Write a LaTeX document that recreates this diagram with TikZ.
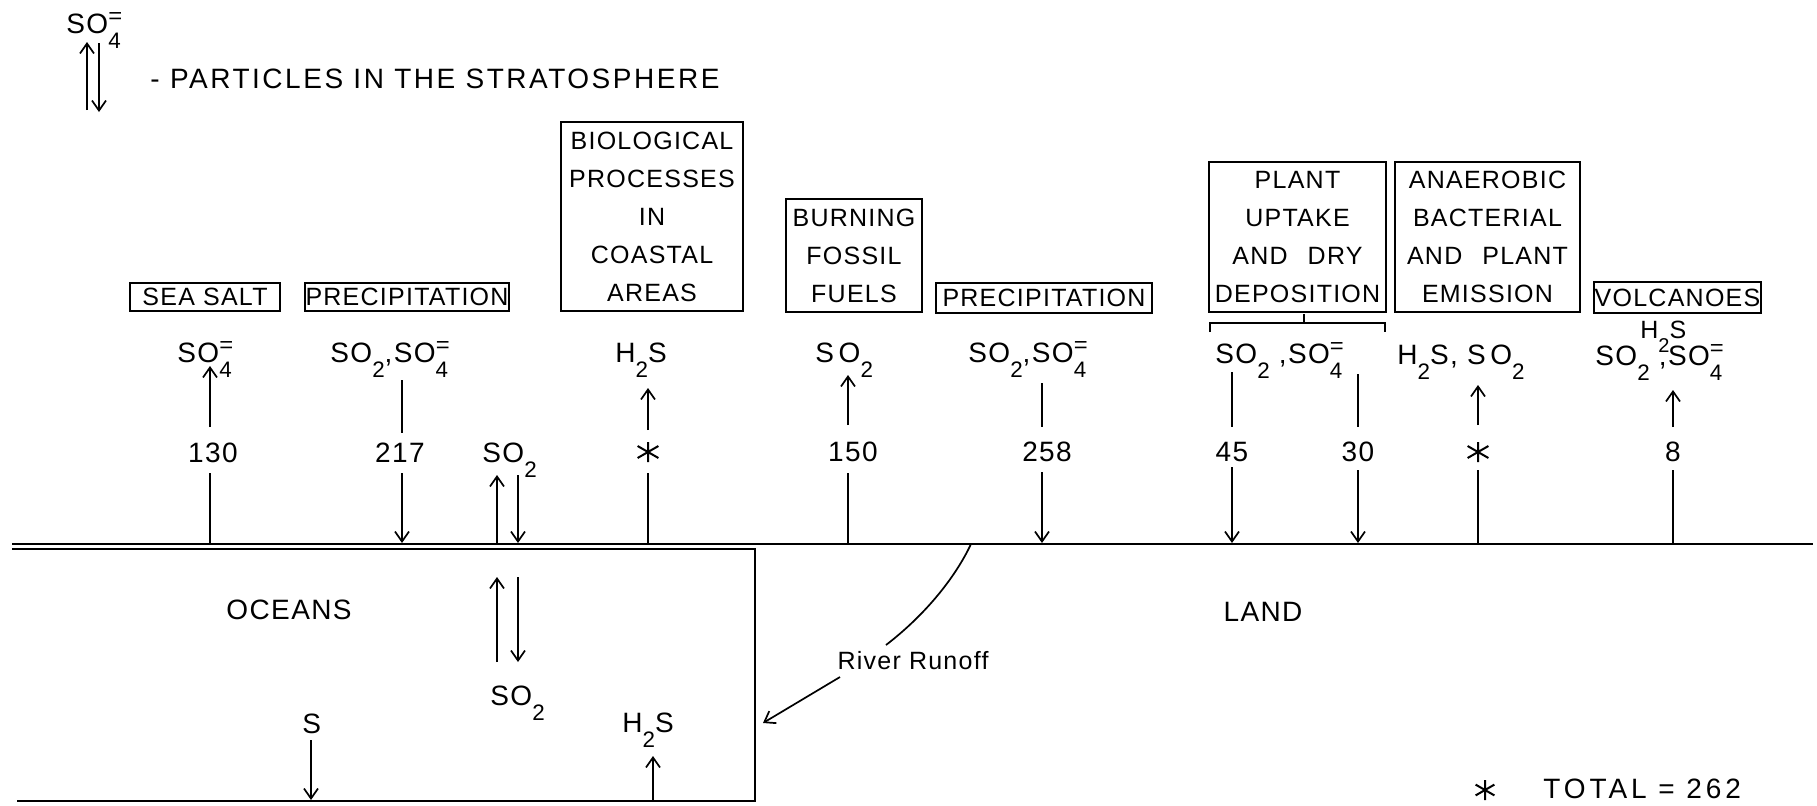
\documentclass[tikz,border=0pt]{standalone}
\usepackage{fontspec}
\setmainfont{Liberation Sans}[LetterSpace=5]
\usetikzlibrary{arrows.meta}
\newcommand{\dn}[1]{\raisebox{-0.56em}{\scalebox{0.8}{#1}}}
\newcommand{\sfour}{\rlap{\raisebox{0.34em}{\scalebox{0.85}[0.8]{=}}}\dn{4}}
\tikzset{
  lbl/.style={font=\fontsize{14}{16}\selectfont, inner sep=0pt, anchor=base west},
  num/.style={font=\fontsize{14}{16}\selectfont, inner sep=0pt},
  big/.style={font=\fontsize{14}{16}\selectfont, inner sep=0pt},
  box/.style={draw, line width=0.85pt, inner sep=0pt, align=center, font=\fontsize{12.5}{19}\selectfont},
  ln/.style={line width=0.85pt},
  gl/.style={line width=1.1pt},
  arr/.style={ln, -{Straight Barb[length=5pt,width=7pt]}},
  ast/.style={circle, minimum size=13pt, inner sep=0pt,
    path picture={\draw[line width=1pt]
      (path picture bounding box.center) +(90:5pt) -- +(270:5pt)
      (path picture bounding box.center) +(30:6pt) -- +(210:6pt)
      (path picture bounding box.center) +(150:6pt) -- +(330:6pt);}}
}
\begin{document}
\begin{tikzpicture}[x=0.5pt,y=-0.5pt]
\useasboundingbox (0,0) rectangle (1817,805);
\fill[white] (0,0) rectangle (1817,805);

% legend
\node[lbl] (legso) at (66,33) {SO\sfour};
\node[lbl, font=\fontsize{14}{16}\selectfont\addfontfeatures{LetterSpace=9}] (legtxt) at (150,88) {- PARTICLES IN THE STRATOSPHERE};
\coordinate (lu1) at (87,110); \coordinate (lu2) at (87,42);
\coordinate (ld1) at (99,43); \coordinate (ld2) at (99,112);
\draw[arr] (lu1) -- (lu2);
\draw[arr] (ld1) -- (ld2);

% boxes
\node[box, minimum width=75pt, minimum height=14pt] (bsea) at (205,297) {SEA SALT};
\node[box, minimum width=102pt, minimum height=14pt] (bpre1) at (407,297) {PRECIPITATION};
\node[box, minimum width=91pt, minimum height=94.5pt] (bbio) at (652,216.5) {BIOLOGICAL\\PROCESSES\\IN\\COASTAL\\AREAS};
\node[box, minimum width=68pt, minimum height=56.5pt] (bburn) at (854,255.5) {BURNING\\FOSSIL\\FUELS};
\node[box, minimum width=108pt, minimum height=15pt] (bpre2) at (1044,298) {PRECIPITATION};
\node[box, minimum width=88.5pt, minimum height=75pt] (bplant) at (1297.5,237) {PLANT\\UPTAKE\\AND\hspace{0.8em}DRY\\DEPOSITION};
\node[box, minimum width=92.5pt, minimum height=75pt] (bana) at (1487.5,237) {ANAEROBIC\\BACTERIAL\\AND\hspace{0.8em}PLANT\\EMISSION};
\node[box, minimum width=83.5pt, minimum height=15.5pt] (bvol) at (1677.5,297.5) {VOLCANOES};

% bracket under plant box
\coordinate (bk1) at (1210,332); \coordinate (bk2) at (1210,323);
\coordinate (bk3) at (1385,323); \coordinate (bk4) at (1385,332);
\coordinate (bkm) at (1304,323); \coordinate (bkt) at (1304,314);
\draw[ln] (bk1) -- (bk2) -- (bk3) -- (bk4);
\draw[ln] (bkm) -- (bkt);

% species labels
\node[lbl] (l1) at (177,362) {SO\sfour};
\node[lbl] (l2) at (330,362) {SO\dn{2},SO\sfour};
\node[lbl] (l3) at (482,462) {SO\dn{2}};
\node[lbl] (l4) at (615,362) {H\dn{2}S};
\node[lbl] (l5) at (815,362) {S\,O\dn{2}};
\node[lbl] (l6) at (968,362) {SO\dn{2},SO\sfour};
\node[lbl] (l7) at (1215,363) {SO\dn{2} ,SO\sfour};
\node[lbl] (l8) at (1397,364) {H\dn{2}S, S\,O\dn{2}};
\node[lbl, font=\fontsize{12.5}{14}\selectfont] (l9a) at (1640,338) {H\dn{2}S};
\node[lbl] (l9b) at (1595,365) {SO\dn{2} ,SO\sfour};

% numbers
\node[num] (n1) at (213,453) {130};
\node[num] (n2) at (400,453) {217};
\node[ast] (n4) at (648,452) {};
\node[num] (n5) at (853,452) {150};
\node[num] (n6) at (1047,452) {258};
\node[num] (n7a) at (1232,452) {45};
\node[num] (n7b) at (1358,452) {30};
\node[ast] (n8) at (1478,452) {};
\node[num] (n9) at (1673,452) {8};

% ground and ocean
\coordinate (gL) at (12,544); \coordinate (gR) at (1813,544);
\coordinate (o1) at (12,549); \coordinate (o2) at (755,549);
\coordinate (o3) at (755,801); \coordinate (o4) at (17,801);
\draw[gl] (gL) -- (gR);
\draw[gl] (o1) -- (o2) -- (o3) -- (o4);

% column connectors
\coordinate (c1t) at (210,366); \coordinate (c1b) at (210,427); \coordinate (c1l) at (210,473); \coordinate (c1g) at (210,544);
\draw[arr] (c1b) -- (c1t); \draw[ln] (c1l) -- (c1g);
\coordinate (c2t) at (402,380); \coordinate (c2b) at (402,433); \coordinate (c2l) at (402,473); \coordinate (c2g) at (402,543);
\draw[ln] (c2t) -- (c2b); \draw[arr] (c2l) -- (c2g);
\coordinate (c3g) at (497,544); \coordinate (c3t) at (497,475);
\coordinate (c3u) at (518,475); \coordinate (c3d) at (518,543);
\draw[arr] (c3g) -- (c3t); \draw[arr] (c3u) -- (c3d);
\coordinate (c4t) at (648,388); \coordinate (c4b) at (648,430); \coordinate (c4l) at (648,473); \coordinate (c4g) at (648,544);
\draw[arr] (c4b) -- (c4t); \draw[ln] (c4l) -- (c4g);
\coordinate (c5t) at (848,375); \coordinate (c5b) at (848,425); \coordinate (c5l) at (848,473); \coordinate (c5g) at (848,544);
\draw[arr] (c5b) -- (c5t); \draw[ln] (c5l) -- (c5g);
\coordinate (c6t) at (1042,383); \coordinate (c6b) at (1042,427); \coordinate (c6l) at (1042,472); \coordinate (c6g) at (1042,543);
\draw[ln] (c6t) -- (c6b); \draw[arr] (c6l) -- (c6g);
\coordinate (c7t) at (1232,372); \coordinate (c7b) at (1232,427); \coordinate (c7l) at (1232,467); \coordinate (c7g) at (1232,543);
\draw[ln] (c7t) -- (c7b); \draw[arr] (c7l) -- (c7g);
\coordinate (c7u) at (1358,374); \coordinate (c7v) at (1358,427); \coordinate (c7w) at (1358,470); \coordinate (c7h) at (1358,543);
\draw[ln] (c7u) -- (c7v); \draw[arr] (c7w) -- (c7h);
\coordinate (c8t) at (1478,385); \coordinate (c8b) at (1478,425); \coordinate (c8l) at (1478,470); \coordinate (c8g) at (1478,544);
\draw[arr] (c8b) -- (c8t); \draw[ln] (c8l) -- (c8g);
\coordinate (c9t) at (1673,390); \coordinate (c9b) at (1673,427); \coordinate (c9l) at (1673,470); \coordinate (c9g) at (1673,544);
\draw[arr] (c9b) -- (c9t); \draw[ln] (c9l) -- (c9g);

% ocean interior
\node[big] (oceans) at (289,610) {OCEANS};
\coordinate (p1) at (497,662); \coordinate (p2) at (497,577);
\coordinate (p3) at (518,577); \coordinate (p4) at (518,662);
\draw[arr] (p1) -- (p2); \draw[arr] (p3) -- (p4);
\node[lbl] (oso2) at (490,705) {SO\dn{2}};
\node[lbl] (os) at (302,733) {S};
\coordinate (s1) at (311,740); \coordinate (s2) at (311,800);
\draw[arr] (s1) -- (s2);
\node[lbl] (oh2s) at (622,732) {H\dn{2}S};
\coordinate (h1) at (653,800); \coordinate (h2) at (653,756);
\draw[arr] (h1) -- (h2);

% land
\node[big] (land) at (1263,612) {LAND};
\coordinate (rs) at (971,544); \coordinate (re) at (886,645);
\draw[ln] (rs) .. controls (955,578) and (925,615) .. (re);
\node[lbl, font=\fontsize{12.5}{15}\selectfont, anchor=center] (river) at (913,661) {River Runoff};
\coordinate (ra) at (840,677); \coordinate (rb) at (763,723);
\draw[arr] (ra) -- (rb);

% footnote
\node[ast, minimum size=11pt] (fast) at (1485,790) {};
\node[lbl, font=\fontsize{14}{16}\selectfont\addfontfeatures{LetterSpace=14}] (total) at (1543,798) {TOTAL = 262};
\end{tikzpicture}
\end{document}
